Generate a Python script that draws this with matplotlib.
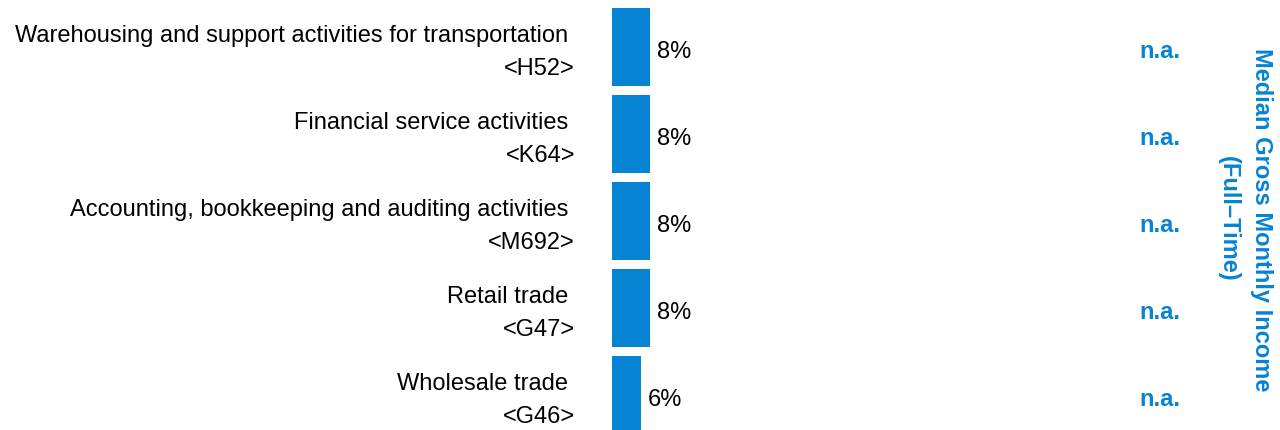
import matplotlib
matplotlib.use("Agg")
import matplotlib.pyplot as plt

plt.rcParams['font.family'] = ['Liberation Sans', 'DejaVu Sans']

industries = ["Warehousing and support activities for transportation",
              "Financial service activities",
              "Accounting, bookkeeping and auditing activities",
              "Retail trade",
              "Wholesale trade"]
codes = ["<H52>", "<K64>", "<M692>", "<G47>", "<G46>"]
shares = [8, 8, 8, 8, 6]
income = ["n.a.", "n.a.", "n.a.", "n.a.", "n.a."]

BLUE = "#0783d4"

fig = plt.figure(figsize=(12.8, 4.3), dpi=100)
# axes spans from the bar baseline (x=612px) to 1200px
ax = fig.add_axes([612/1280, 0, 588/1280, 1])

y = list(range(len(industries)))
ax.barh(y, shares, height=0.9, color=BLUE)
xmax = 8 * 588 / 38
ax.set_xlim(0, xmax)
ax.set_ylim(4 + 35/87, -47/87)
ax.axis("off")

for i in y:
    ax.text(-37/588*xmax, i + 0.06, industries[i] + " \n" + codes[i],
            ha="right", va="center", fontsize=17, linespacing=1.67,
            multialignment="right")
    ax.text(shares[i] + 7/588*xmax, i + 0.06, "%d%%" % shares[i],
            ha="left", va="center", fontsize=17)
    ax.text((1160-612)/588, i + 0.05, income[i], transform=ax.get_yaxis_transform(),
            ha="center", va="center", fontsize=17, fontweight="bold", color=BLUE)

fig.text(1245/1280, 0.49, "Median Gross Monthly Income\n(Full\u2013Time)",
         rotation=270, ha="center", va="center", fontsize=17,
         fontweight="bold", color=BLUE, linespacing=1.6)

fig.savefig("out.png", dpi=100)
